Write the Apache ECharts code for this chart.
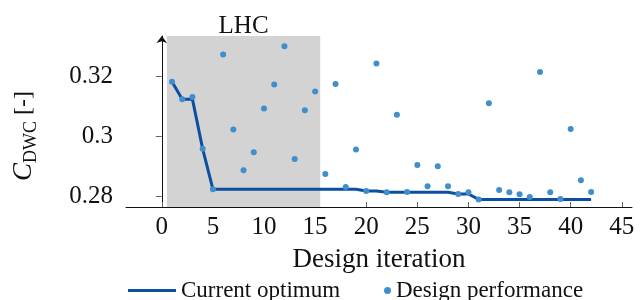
<!DOCTYPE html>
<html>
<head>
<meta charset="utf-8">
<script src="https://cdn.jsdelivr.net/npm/echarts@6/dist/echarts.min.js"></script>
<style>html,body{margin:0;padding:0;background:#fff;}#c{width:644px;height:300px;}</style>
</head>
<body>
<div id="c"></div>
<script>
const iterations = [1,2,3,4,5,6,7,8,9,10,11,12,13,14,15,16,17,18,19,20,21,22,23,24,25,26,27,28,29,30,31,32,33,34,35,36,37,38,39,40,41,42];
const designPerformance = [0.3182,0.3124,0.3131,0.2959,0.2825,0.3272,0.3023,0.2888,0.2948,0.3093,0.3173,0.3300,0.2925,0.3087,0.3149,0.2875,0.3174,0.2832,0.2957,0.2819,0.3242,0.2815,0.3072,0.2816,0.2905,0.2835,0.2901,0.2835,0.2809,0.2815,0.2791,0.3110,0.2822,0.2815,0.2808,0.2799,0.3214,0.2815,0.2792,0.3025,0.2855,0.2816];
const currentOptimum = [0.3182,0.3124,0.3124,0.2959,0.2825,0.2825,0.2825,0.2825,0.2825,0.2825,0.2825,0.2825,0.2825,0.2825,0.2825,0.2825,0.2825,0.2825,0.2825,0.2819,0.2819,0.2815,0.2815,0.2815,0.2815,0.2815,0.2815,0.2815,0.2809,0.2809,0.2791,0.2791,0.2791,0.2791,0.2791,0.2791,0.2791,0.2791,0.2791,0.2791,0.2791,0.2791];
const xTicks = [0,5,10,15,20,25,30,35,40,45];
const yTicks = [0.28,0.3,0.32];
const lhcRange = [0.5, 15.5];
const xMin = -3.5, xMax = 46;
const yMin = 0.27658, yMax = 0.33337;

const FONT = '"Liberation Serif", "DejaVu Serif", serif';
const chart = echarts.init(document.getElementById('c'), null, {renderer:'canvas'});
chart.setOption({
  animation: false,
  backgroundColor: '#fff',
  grid: {left:126, right:12, top:36, bottom:93, containLabel:false},
  xAxis: {
    type:'value', min:xMin, max:xMax,
    name:'Design iteration', nameLocation:'middle', nameGap:39,
    nameTextStyle:{fontFamily:FONT, fontSize:27, color:'#111'},
    axisLine:{show:true, lineStyle:{color:'#111', width:1}},
    axisTick:{show:true, inside:true, length:5, lineStyle:{color:'#666'}, customValues:xTicks},
    axisLabel:{fontFamily:FONT, fontSize:25, color:'#111', margin:8, customValues:xTicks},
    splitLine:{show:false}
  },
  yAxis: {
    type:'value', min:yMin, max:yMax,
    axisLine:{show:true, symbol:['none','arrow'], symbolSize:[8,7], lineStyle:{color:'#111', width:1}},
    axisTick:{show:true, inside:false, length:6, lineStyle:{color:'#666'}, customValues:yTicks},
    axisLabel:{fontFamily:FONT, fontSize:25, color:'#111', margin:13, customValues:yTicks},
    splitLine:{show:false}
  },
  legend: [
    {data:[{name:'Current optimum', icon:'rect'}], left:128, top:279, padding:0, itemWidth:48, itemHeight:3, itemGap:0,
     textStyle:{fontFamily:FONT, fontSize:23, color:'#111'}},
    {data:[{name:'Design performance', icon:'circle'}], left:384, top:279, padding:0, itemWidth:7, itemHeight:7, itemGap:0,
     textStyle:{fontFamily:FONT, fontSize:23, color:'#111'}}
  ],
  graphic: [{
    type:'text', x:24, y:136, rotation:Math.PI/2,
    style:{
      text:'{c|C}{s|DWC}{n| [-]}', align:'center', verticalAlign:'middle',
      rich:{
        c:{fontFamily:FONT, fontStyle:'italic', fontSize:27, fill:'#111'},
        s:{fontFamily:FONT, fontSize:18, fill:'#111', padding:[15,0,0,0]},
        n:{fontFamily:FONT, fontSize:24, fill:'#111'}
      }
    }
  }],
  series: [
    {
      name:'Current optimum', type:'line', symbol:'none', z:2,
      data: iterations.map((x,i)=>[x,currentOptimum[i]]),
      lineStyle:{color:'#0b4fa0', width:3},
      itemStyle:{color:'#0b4fa0'},
      markArea:{
        silent:true,
        itemStyle:{color:'#d3d3d3'},
        label:{show:true, position:'top', distance:-3, formatter:'LHC', fontFamily:FONT, fontSize:25, color:'#111'},
        data:[[{xAxis:lhcRange[0], yAxis:yMin},{xAxis:lhcRange[1], yAxis:yMax}]]
      }
    },
    {
      name:'Design performance', type:'scatter', symbol:'circle', symbolSize:6, z:3,
      data: iterations.map((x,i)=>[x,designPerformance[i]]),
      itemStyle:{color:'#3f8fcc', opacity:1}
    }
  ]
});
</script>
</body>
</html>
